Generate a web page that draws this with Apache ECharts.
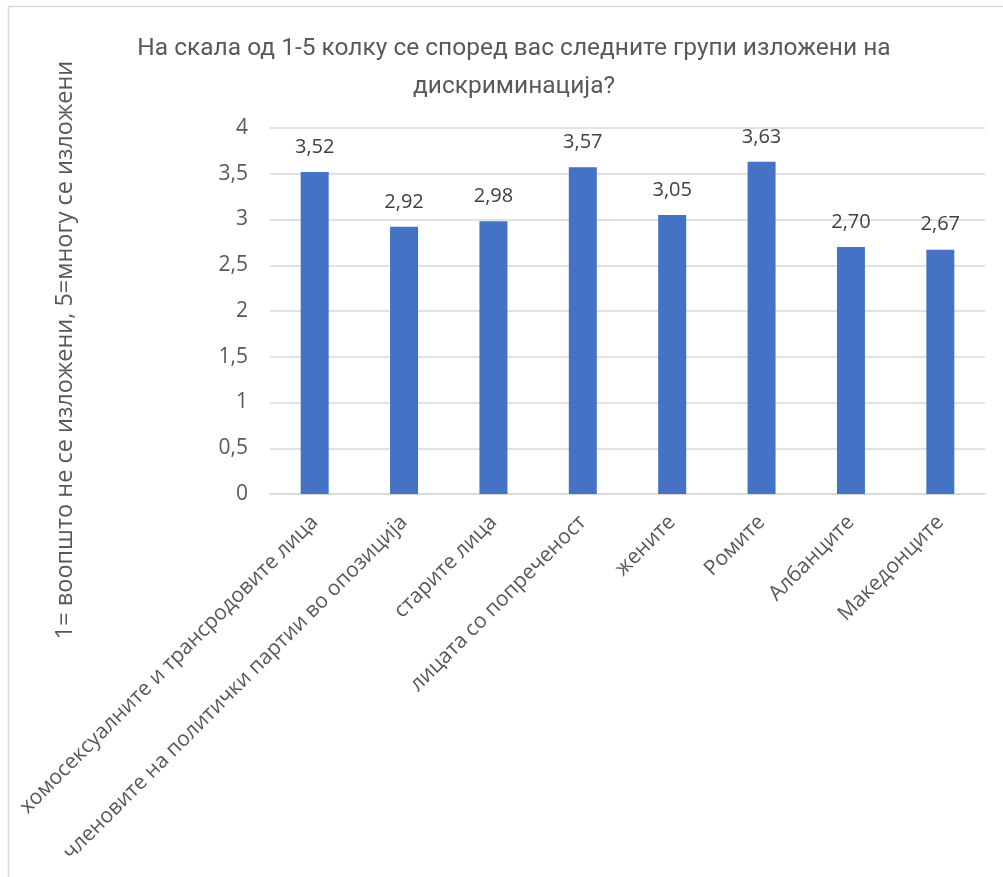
<!DOCTYPE html>
<html>
<head>
<meta charset="utf-8">
<script src="https://cdn.jsdelivr.net/npm/echarts@6/dist/echarts.min.js"></script>
<style>
html,body{margin:0;padding:0;background:#fff;}
#chart{width:1003px;height:877px;}
</style>
</head>
<body>
<div id="chart"></div>
<script>
const categories = [
  'хомосексуалните и трансродовите лица',
  'членовите на политички партии во опозиција',
  'старите лица',
  'лицата со попреченост',
  'жените',
  'Ромите',
  'Албанците',
  'Македонците'
];
const values = [3.52, 2.92, 2.98, 3.57, 3.05, 3.63, 2.70, 2.67];
const yTicks = [0, 0.5, 1, 1.5, 2, 2.5, 3, 3.5, 4];
const titleLines = ['На скала од 1-5 колку се според вас следните групи изложени на', 'дискриминација?'];
const yAxisName = '1= воопшто не се изложени, 5=многу се изложени';

const chart = echarts.init(document.getElementById('chart'));
const fmt = v => String(v).replace('.', ',');
chart.setOption({
  animation: false,
  backgroundColor: '#fff',
  title: {
    text: titleLines.join('\n'),
    left: 509,
    textAlign: 'center',
    top: 25,
    textStyle: {
      fontFamily: 'Roboto',
      fontWeight: 'normal',
      fontSize: 24.5,
      color: '#595959',
      lineHeight: 38
    }
  },
  graphic: [{
    type: 'rect',
    shape: {x: 8.5, y: 6.5, width: 1100, height: 1000},
    style: {fill: 'none', stroke: '#d9d9d9', lineWidth: 1.5},
    silent: true
  }, {
    type: 'text',
    x: 65,
    y: 350,
    rotation: Math.PI / 2,
    style: {
      text: yAxisName,
      fill: '#595959',
      fontFamily: 'Open Sans',
      fontSize: 23.5,
      align: 'center',
      verticalAlign: 'middle'
    },
    silent: true
  }],
  grid: {left: 270, right: 18, top: 128, bottom: 383, containLabel: false},
  xAxis: {
    type: 'category',
    data: categories,
    axisLine: {lineStyle: {color: '#d9d9d9', width: 1.5}},
    axisTick: {show: false},
    axisLabel: {
      interval: 0,
      rotate: 45,
      margin: 25,
      color: '#595959',
      fontFamily: 'Open Sans',
      fontSize: 21
    }
  },
  yAxis: {
    type: 'value',
    min: 0,
    max: 4,
    interval: 0.5,
    axisLine: {show: false},
    axisTick: {show: false},
    splitLine: {lineStyle: {color: '#d9d9d9', width: 1.5}},
    axisLabel: {
      color: '#595959',
      fontFamily: 'Open Sans',
      fontSize: 21,
      margin: 22,
      formatter: v => yTicks.includes(v) ? fmt(v) : ''
    }
  },
  series: [{
    type: 'bar',
    data: values,
    barWidth: 28,
    itemStyle: {color: '#4472C4'},
    label: {
      show: true,
      position: 'top',
      distance: 15,
      color: '#404040',
      fontFamily: 'Open Sans',
      fontSize: 20,
      formatter: p => p.value.toFixed(2).replace('.', ',')
    }
  }]
});
</script>
</body>
</html>
